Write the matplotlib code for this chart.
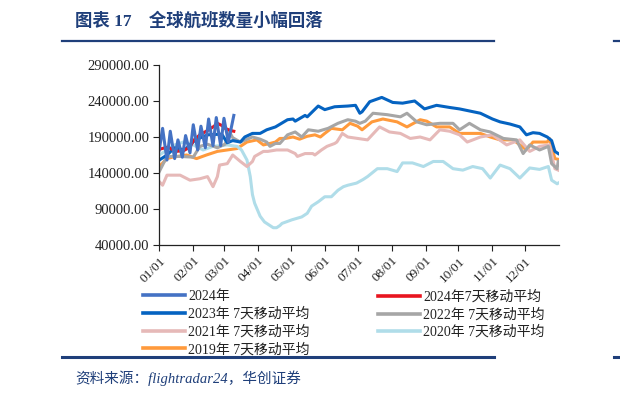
import matplotlib.pyplot as plt
from matplotlib.lines import Line2D

plt.rcParams['font.family'] = ['Liberation Serif', 'Noto Sans CJK SC']

# day-of-year positions and values (flights per day)
days_24raw = [0, 3, 7, 10, 14, 17, 21, 24, 28, 31, 35, 38, 42, 45, 49, 52, 56, 59, 63, 68]
vals_24raw = [172, 202, 158, 198, 160, 186, 162, 192, 168, 207, 172, 205, 175, 215, 178, 217, 178, 216, 183, 220]

days_24avg = [0, 8, 15, 22, 28, 31, 37, 44, 50, 53, 57, 60, 65, 68]
vals_24avg = [173, 176, 170, 171, 176, 185, 193, 199, 205, 209, 206, 202, 199, 198]

days_23 = [0, 7, 14, 23, 33, 44, 57, 62, 67, 74, 78, 85, 92, 98, 106, 117, 122, 124, 133, 135, 145,
           151, 160, 172, 179, 183, 185, 192, 203, 213, 222, 233, 242, 253, 265, 274, 293, 304, 311,
           320, 329, 335, 341, 347, 354, 358, 361, 364]
vals_23 = [158, 165, 175, 172, 186, 193, 194, 182, 185, 183, 190, 195, 195, 200, 204, 214, 215, 212, 220,
           218, 233, 228, 232, 233, 234, 223, 225, 239, 245, 238, 237, 240, 229, 234, 231, 229, 223, 215,
           211, 208, 204, 193, 196, 195, 190, 185, 170, 167]

days_22 = [0, 7, 19, 31, 37, 44, 53, 60, 64, 67, 74, 85, 92, 98, 101, 106, 110, 117, 124, 130, 136, 145,
           154, 163, 172, 179, 183, 188, 195, 208, 220, 226, 235, 244, 256, 268, 274, 283, 293, 302, 314,
           326, 332, 338, 347, 355, 358, 363, 364]
vals_22 = [142, 163, 163, 162, 177, 180, 175, 180, 197, 189, 183, 190, 187, 183, 177, 181, 181, 193, 197,
           190, 200, 198, 202, 209, 214, 212, 209, 212, 223, 221, 218, 223, 211, 207, 209, 209, 200, 209,
           200, 197, 188, 186, 167, 179, 172, 177, 153, 146, 156]

days_21 = [0, 3, 7, 19, 28, 37, 44, 49, 53, 55, 62, 67, 74, 80, 85, 87, 95, 99, 107, 117, 124, 126, 133,
           140, 142, 148, 153, 160, 162, 167, 172, 181, 190, 201, 210, 220, 229, 238, 247, 256, 265, 274,
           281, 293, 304, 317, 329, 338, 347, 356, 361, 364]
vals_21 = [128, 123, 137, 137, 130, 132, 135, 121, 135, 151, 153, 165, 156, 149, 156, 163, 170, 170, 172,
           172, 167, 163, 167, 167, 165, 172, 177, 181, 183, 195, 190, 188, 186, 204, 197, 195, 188, 190,
           186, 200, 198, 193, 183, 190, 193, 179, 186, 170, 177, 179, 146, 144]

days_20 = [0, 7, 14, 22, 31, 40, 49, 62, 71, 75, 80, 83, 85, 87, 92, 96, 104, 107, 110, 112, 121, 130,
           135, 139, 145, 151, 157, 163, 168, 172, 180, 186, 190, 199, 208, 217, 222, 231, 241, 250, 259,
           268, 277, 286, 295, 302, 311, 320, 329, 338, 347, 355, 358, 363, 364]
vals_20 = [165, 172, 179, 183, 179, 172, 177, 179, 177, 172, 158, 135, 110, 98, 80, 72, 64, 64, 67, 70, 75,
           79, 84, 94, 100, 107, 107, 116, 121, 123, 126, 131, 135, 146, 146, 142, 154, 154, 149, 156, 156,
           146, 144, 149, 146, 133, 151, 146, 133, 147, 145, 149, 130, 125, 126]

days_19 = [0, 7, 12, 25, 34, 43, 53, 62, 71, 80, 89, 95, 101, 106, 110, 115, 122, 128, 135, 142, 147, 151,
           157, 167, 174, 181, 185, 194, 204, 217, 226, 238, 244, 253, 265, 274, 293, 302, 311, 323, 335,
           341, 354, 356, 361, 364]
vals_19 = [149, 160, 162, 165, 160, 165, 170, 172, 174, 183, 186, 179, 181, 183, 188, 188, 190, 187, 191,
           193, 190, 195, 202, 200, 209, 205, 200, 211, 215, 211, 204, 214, 212, 204, 204, 195, 195, 190,
           186, 186, 172, 183, 183, 188, 160, 159]

month_days = [0, 31, 59, 90, 120, 151, 181, 212, 243, 273, 304, 334]
month_labels = ['01/01', '02/01', '03/01', '04/01', '05/01', '06/01',
                '07/01', '08/01', '09/01', '10/01', '11/01', '12/01']
yticks = [40000, 90000, 140000, 190000, 240000, 290000]

series = [
    (days_24raw, vals_24raw, '#4472C4', '2024年'),
    (days_24avg, vals_24avg, '#E8151F', '2024年7天移动平均'),
    (days_23, vals_23, '#0563C1', '2023年 7天移动平均'),
    (days_22, vals_22, '#A6A6A6', '2022年 7天移动平均'),
    (days_21, vals_21, '#E6B9B8', '2021年 7天移动平均'),
    (days_20, vals_20, '#B0DDE9', '2020年 7天移动平均'),
    (days_19, vals_19, '#FF9A3C', '2019年 7天移动平均'),
]

fig = plt.figure(figsize=(6.2, 3.98), dpi=100)
ax = fig.add_axes([159.3 / 620, 1 - 245 / 398, 400 / 620, 180 / 398])

order = [6, 5, 4, 3, 2, 1, 0]
for i in order:
    d, v, c, lab = series[i]
    ax.plot(d, [x * 1000 for x in v], color=c, lw=2.2, solid_joinstyle='round')

ax.set_xlim(0, 365)
ax.set_ylim(40000, 290000)
ax.set_xticks(month_days)
ax.set_xticklabels(month_labels, rotation=45, ha='right', rotation_mode='anchor')
ax.set_yticks(yticks)
ax.set_yticklabels(['%.2f' % t for t in yticks])
ax.tick_params(labelsize=9.5, length=4, width=0.8, colors='#222222', pad=3)
ax.tick_params(axis='y', labelsize=10.5)
ax.spines['top'].set_visible(False)
ax.spines['right'].set_visible(False)
for s in ['left', 'bottom']:
    ax.spines[s].set_linewidth(0.9)
    ax.spines[s].set_color('#222222')

# legend, two columns
left_col = [0, 2, 4, 6]
right_col = [1, 3, 5]
for col, x0 in [(left_col, 135 / 620), (right_col, 370 / 620)]:
    hs = [Line2D([], [], color=series[i][2], lw=2.6) for i in col]
    ls = [series[i][3] for i in col]
    leg = fig.legend(hs, ls, loc='upper left', bbox_to_anchor=(x0, 1 - 282 / 398),
                     frameon=False, fontsize=10, handlelength=3.0, handletextpad=0.25,
                     labelspacing=0.3, borderpad=0.1)
    for t in leg.get_texts():
        t.set_color('#222222')

navy = '#1F3F7A'
fig.text(75 / 620, 1 - 21 / 398, '图表 17　全球航班数量小幅回落', fontsize=12.5, fontweight='bold',
         color=navy, va='center', ha='left')
fig.add_artist(Line2D([62 / 620, 494 / 620], [1 - 41 / 398] * 2, color=navy, lw=1.6))
fig.add_artist(Line2D([614 / 620, 620 / 620], [1 - 41 / 398] * 2, color=navy, lw=1.6))
fig.add_artist(Line2D([62 / 620, 494 / 620], [1 - 357 / 398] * 2, color=navy, lw=2.2))
fig.add_artist(Line2D([614 / 620, 620 / 620], [1 - 357 / 398] * 2, color=navy, lw=2.2))
fig.text(75 / 620, 1 - 378 / 398, '资料来源：flightradar24，华创证券', fontsize=10.5, style='italic',
         color=navy, va='center', ha='left')

fig.savefig('out.png', dpi=100)
